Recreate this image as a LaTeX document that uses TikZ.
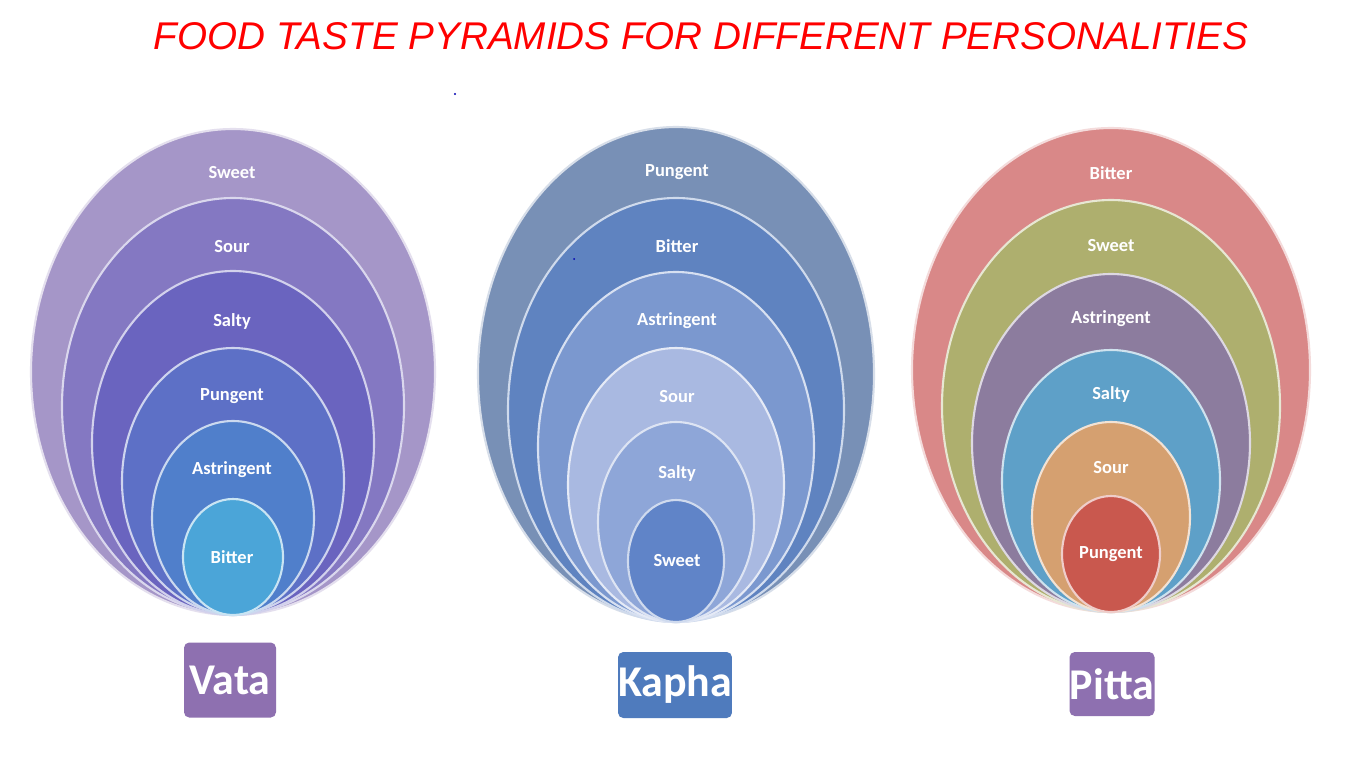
\documentclass[tikz,border=0pt]{standalone}
\usepackage{fontspec}
\setmainfont{Carlito}
\newfontfamily\titlefont{Liberation Sans}
\usepackage{xcolor}

\definecolor{vataA}{HTML}{A596C8}
\definecolor{vataB}{HTML}{8478C2}
\definecolor{vataC}{HTML}{6A64BF}
\definecolor{vataD}{HTML}{5D70C6}
\definecolor{vataE}{HTML}{507FCB}
\definecolor{vataF}{HTML}{4BA5D8}
\definecolor{kaphaA}{HTML}{7890B6}
\definecolor{kaphaB}{HTML}{5F83C0}
\definecolor{kaphaC}{HTML}{7B98CF}
\definecolor{kaphaD}{HTML}{A9B9E1}
\definecolor{kaphaE}{HTML}{8EA6D8}
\definecolor{kaphaF}{HTML}{6084C8}
\definecolor{pittaA}{HTML}{D98888}
\definecolor{pittaB}{HTML}{AEAF6E}
\definecolor{pittaC}{HTML}{8C7C9E}
\definecolor{pittaD}{HTML}{5EA0C8}
\definecolor{pittaE}{HTML}{D5A070}
\definecolor{pittaF}{HTML}{C9584E}
\definecolor{boxpurple}{HTML}{8E70B0}
\definecolor{boxblue}{HTML}{4F7BBD}

\tikzset{
  layer/.style={draw=white!70!#1, line width=1.2pt, fill=#1},
  taste/.style={text=white, font=\bfseries\fontsize{10.5}{12}\selectfont},
  dosha/.style={fill=#1, text=white, rounded corners=3pt, inner sep=0pt,
    font=\bfseries\fontsize{25}{28}\selectfont}
}

\begin{document}
\begin{tikzpicture}[x=0.02cm, y=-0.02cm]

    % page
    \fill[white] (0,0) rectangle (1366,768);

    % title
    \node[text=red, font=\titlefont\itshape\fontsize{22}{24}\selectfont] (title) at (701,36)
      {FOOD TASTE PYRAMIDS FOR DIFFERENT PERSONALITIES};

    % Vata
    \foreach \cy/\rx/\ry/\col in {372/202/243/vataA, 406/171/208/vataB, 443/141/172/vataC,
        481/111/133/vataD, 518/81/97/vataE, 557/50/58/vataF}
      \draw[layer=\col] (233,\cy) ellipse[x radius=\rx, y radius=\ry];
    \foreach \ty/\txt [count=\i] in {173/Sweet, 247/Sour, 321/Salty, 396/Pungent, 470/Astringent, 557/Bitter}
      \node[taste] (vata\i) at (232,\ty) {\txt};

    % Kapha
    \foreach \cy/\rx/\ry/\col in {374/198/247/kaphaA, 410/168/212/kaphaB, 447/138/175/kaphaC,
        485/108/137/kaphaD, 522/78/100/kaphaE, 561/48/61/kaphaF}
      \draw[layer=\col] (676,\cy) ellipse[x radius=\rx, y radius=\ry];
    \foreach \ty/\txt [count=\i] in {172/Pungent, 246/Bitter, 321/Astringent, 397/Sour, 473/Salty, 561/Sweet}
      \node[taste] (kapha\i) at (677,\ty) {\txt};

    % Pitta
    \foreach \cy/\rx/\ry/\col in {370/199/242/pittaA, 406/169/206/pittaB, 443/139/169/pittaC,
        481/109/131/pittaD, 517/79/95/pittaE, 554/49/58/pittaF}
      \draw[layer=\col] (1111,\cy) ellipse[x radius=\rx, y radius=\ry];
    \foreach \ty/\txt [count=\i] in {173/Bitter, 246/Sweet, 319/Astringent, 394/Salty, 468/Sour, 554/Pungent}
      \node[taste] (pitta\i) at (1111,\ty) {\txt};

    % dosha labels
    \node[dosha=boxpurple, minimum width=92*0.02cm, minimum height=75*0.02cm] (vata) at (230,680) {Vata};
    \node[dosha=boxblue, minimum width=101*0.02cm, minimum height=66*0.02cm] (kapha) at (675,685) {Kapha};
    \node[dosha=boxpurple, minimum width=85*0.02cm, minimum height=64*0.02cm] (pitta) at (1112,684) {Pitta};

    % stray dots
    \fill[blue!70!black] (455,94) circle (1.2);
    \fill[blue!70!black] (574,259) circle (1);

\end{tikzpicture}
\end{document}
